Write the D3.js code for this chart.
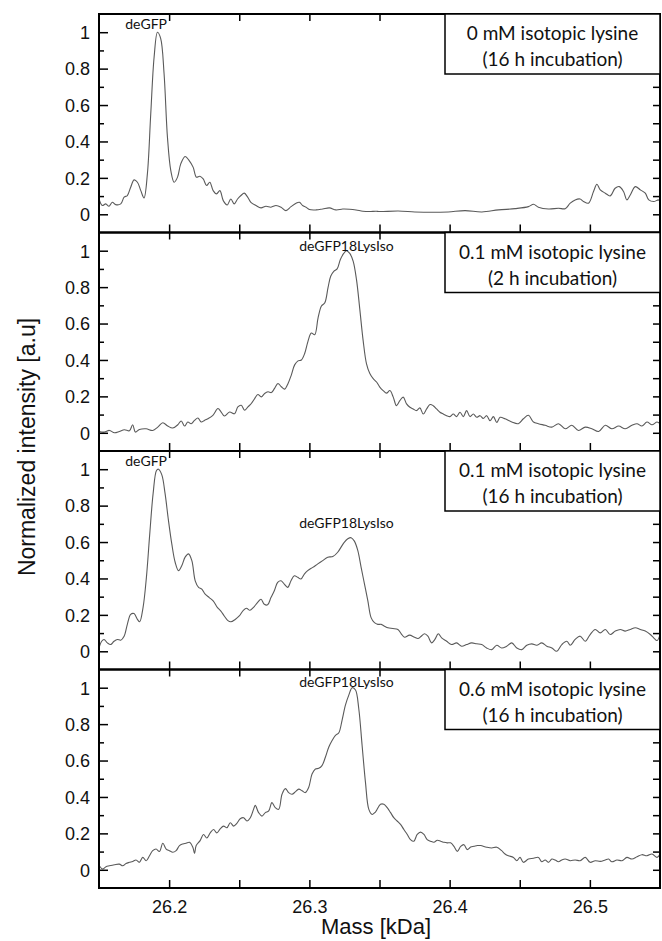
<!DOCTYPE html>
<html>
<head>
<meta charset="utf-8">
<script src="https://cdn.jsdelivr.net/npm/d3@7"></script>
<style>
  body { margin: 0; background: #fff; overflow: hidden; }
  svg { display: block; }
</style>
</head>
<body>
<div class="chart"></div>
<script>
const WIDTH = 662;
const HEIGHT = 941;

const margin = { top: 14, left: 99, right: 2, bottom: 53 };
const plotW = WIDTH - margin.left - margin.right;
const panelH = (HEIGHT - margin.top - margin.bottom) / 4;

// [mass kDa, normalized intensity]
const spectrum0mM16h = [
  [26.1500,0.084],[26.1524,0.048],[26.1548,0.057],[26.1571,0.044],[26.1595,0.066],[26.1619,0.053],
  [26.1655,0.057],[26.1679,0.094],[26.1702,0.103],[26.1726,0.149],[26.1750,0.189],[26.1774,0.176],
  [26.1798,0.130],[26.1821,0.090],[26.1845,0.222],[26.1869,0.552],[26.1893,0.864],[26.1917,1.000],
  [26.1940,0.965],[26.1964,0.772],[26.1988,0.424],[26.2012,0.240],[26.2036,0.176],[26.2060,0.204],
  [26.2083,0.277],[26.2114,0.317],[26.2143,0.295],[26.2171,0.259],[26.2195,0.204],[26.2219,0.209],
  [26.2243,0.194],[26.2267,0.158],[26.2290,0.176],[26.2314,0.130],[26.2338,0.112],[26.2362,0.130],
  [26.2386,0.075],[26.2414,0.051],[26.2440,0.084],[26.2464,0.057],[26.2488,0.084],[26.2512,0.103],
  [26.2536,0.116],[26.2560,0.094],[26.2583,0.066],[26.2619,0.048],[26.2655,0.035],[26.2690,0.044],
  [26.2726,0.039],[26.2762,0.048],[26.2798,0.039],[26.2833,0.020],[26.2869,0.042],[26.2905,0.061],
  [26.2929,0.066],[26.2952,0.048],[26.2976,0.039],[26.3000,0.026],[26.3048,0.024],[26.3095,0.029],
  [26.3143,0.035],[26.3190,0.024],[26.3238,0.029],[26.3286,0.028],[26.3333,0.024],[26.3381,0.017],
  [26.3429,0.015],[26.3476,0.017],[26.3500,0.015],[26.3633,0.018],[26.3752,0.013],[26.3870,0.011],
  [26.3990,0.013],[26.4110,0.020],[26.4230,0.013],[26.4348,0.024],[26.4467,0.031],[26.4562,0.042],
  [26.4598,0.055],[26.4633,0.039],[26.4705,0.029],[26.4776,0.033],[26.4824,0.031],[26.4860,0.061],
  [26.4895,0.079],[26.4930,0.084],[26.4955,0.070],[26.4990,0.061],[26.5026,0.125],[26.5050,0.165],
  [26.5074,0.134],[26.5110,0.116],[26.5145,0.101],[26.5180,0.143],[26.5210,0.152],[26.5240,0.125],
  [26.5264,0.079],[26.5288,0.106],[26.5324,0.152],[26.5360,0.134],[26.5395,0.116],[26.5420,0.079],
  [26.5455,0.070],[26.5490,0.079],[26.5500,0.070]
];

const spectrum01mM2h = [
  [26.1502,0.007],[26.1538,0.004],[26.1574,0.013],[26.1610,0.000],[26.1645,0.007],[26.1681,0.017],
  [26.1717,0.011],[26.1740,0.044],[26.1760,0.004],[26.1788,0.018],[26.1836,0.022],[26.1883,0.013],
  [26.1919,0.031],[26.1955,0.055],[26.1990,0.037],[26.2026,0.026],[26.2062,0.044],[26.2086,0.065],
  [26.2110,0.037],[26.2133,0.059],[26.2157,0.050],[26.2181,0.068],[26.2205,0.081],[26.2229,0.059],
  [26.2252,0.068],[26.2276,0.077],[26.2312,0.096],[26.2348,0.133],[26.2371,0.114],[26.2395,0.092],
  [26.2431,0.114],[26.2467,0.105],[26.2490,0.142],[26.2514,0.151],[26.2538,0.124],[26.2562,0.142],
  [26.2586,0.161],[26.2610,0.188],[26.2633,0.210],[26.2657,0.197],[26.2681,0.216],[26.2705,0.225],
  [26.2729,0.221],[26.2752,0.244],[26.2776,0.271],[26.2800,0.253],[26.2824,0.240],[26.2848,0.271],
  [26.2871,0.317],[26.2895,0.373],[26.2919,0.395],[26.2943,0.400],[26.2967,0.437],[26.2990,0.502],
  [26.3014,0.548],[26.3038,0.539],[26.3062,0.631],[26.3086,0.696],[26.3110,0.714],[26.3133,0.797],
  [26.3152,0.860],[26.3174,0.887],[26.3198,0.900],[26.3221,0.952],[26.3245,0.985],[26.3264,1.000],
  [26.3288,0.985],[26.3312,0.943],[26.3336,0.841],[26.3360,0.675],[26.3383,0.509],[26.3407,0.380],
  [26.3431,0.325],[26.3455,0.297],[26.3479,0.279],[26.3502,0.251],[26.3526,0.232],[26.3550,0.218],
  [26.3574,0.232],[26.3598,0.196],[26.3621,0.149],[26.3645,0.177],[26.3669,0.196],[26.3693,0.159],
  [26.3717,0.140],[26.3740,0.131],[26.3764,0.122],[26.3788,0.137],[26.3812,0.103],[26.3836,0.131],
  [26.3860,0.155],[26.3883,0.149],[26.3907,0.131],[26.3931,0.113],[26.3955,0.103],[26.3979,0.094],
  [26.4002,0.089],[26.4026,0.103],[26.4050,0.089],[26.4074,0.113],[26.4098,0.089],[26.4121,0.122],
  [26.4145,0.089],[26.4169,0.103],[26.4193,0.085],[26.4217,0.094],[26.4240,0.079],[26.4264,0.094],
  [26.4288,0.066],[26.4312,0.089],[26.4336,0.057],[26.4360,0.085],[26.4395,0.077],[26.4443,0.059],
  [26.4490,0.050],[26.4526,0.077],[26.4562,0.096],[26.4598,0.059],[26.4633,0.050],[26.4681,0.041],
  [26.4729,0.031],[26.4776,0.050],[26.4824,0.022],[26.4871,0.041],[26.4919,0.013],[26.4967,0.031],
  [26.5014,0.022],[26.5062,0.007],[26.5110,0.041],[26.5157,0.022],[26.5205,0.037],[26.5252,0.022],
  [26.5300,0.041],[26.5336,0.050],[26.5371,0.037],[26.5407,0.059],[26.5443,0.044],[26.5479,0.059],
  [26.5500,0.050]
];

const spectrum01mM16h = [
  [26.1500,0.018],[26.1519,0.055],[26.1536,0.065],[26.1560,0.046],[26.1583,0.037],[26.1607,0.055],
  [26.1631,0.065],[26.1655,0.061],[26.1679,0.083],[26.1702,0.148],[26.1726,0.203],[26.1750,0.207],
  [26.1774,0.175],[26.1790,0.162],[26.1814,0.240],[26.1838,0.406],[26.1862,0.646],[26.1886,0.867],
  [26.1910,0.993],[26.1924,1.000],[26.1948,0.969],[26.1971,0.867],[26.1995,0.720],[26.2019,0.590],
  [26.2043,0.489],[26.2067,0.443],[26.2090,0.470],[26.2114,0.517],[26.2138,0.535],[26.2162,0.498],
  [26.2186,0.387],[26.2210,0.351],[26.2233,0.341],[26.2257,0.314],[26.2286,0.295],[26.2314,0.277],
  [26.2345,0.240],[26.2369,0.221],[26.2393,0.194],[26.2417,0.170],[26.2440,0.162],[26.2471,0.175],
  [26.2500,0.194],[26.2529,0.225],[26.2552,0.236],[26.2576,0.225],[26.2600,0.240],[26.2631,0.268],
  [26.2655,0.286],[26.2679,0.258],[26.2702,0.255],[26.2726,0.295],[26.2750,0.332],[26.2774,0.378],
  [26.2798,0.387],[26.2821,0.369],[26.2845,0.351],[26.2869,0.387],[26.2893,0.415],[26.2917,0.406],
  [26.2940,0.397],[26.2964,0.424],[26.2988,0.443],[26.3024,0.461],[26.3060,0.480],[26.3095,0.498],
  [26.3131,0.517],[26.3167,0.520],[26.3202,0.544],[26.3226,0.572],[26.3250,0.600],[26.3274,0.618],
  [26.3298,0.624],[26.3321,0.605],[26.3345,0.554],[26.3369,0.461],[26.3393,0.369],[26.3417,0.277],
  [26.3440,0.185],[26.3464,0.157],[26.3488,0.148],[26.3512,0.148],[26.3536,0.138],[26.3560,0.129],
  [26.3595,0.125],[26.3631,0.120],[26.3655,0.096],[26.3679,0.077],[26.3714,0.089],[26.3750,0.077],
  [26.3774,0.070],[26.3798,0.083],[26.3821,0.096],[26.3845,0.083],[26.3871,0.046],[26.3895,0.065],
  [26.3919,0.096],[26.3943,0.074],[26.3979,0.055],[26.4014,0.037],[26.4050,0.046],[26.4086,0.028],
  [26.4121,0.037],[26.4157,0.046],[26.4193,0.041],[26.4229,0.037],[26.4264,0.018],[26.4300,0.009],
  [26.4336,0.033],[26.4371,0.018],[26.4407,0.028],[26.4443,0.046],[26.4479,0.018],[26.4514,0.009],
  [26.4550,0.033],[26.4586,0.041],[26.4621,0.033],[26.4657,0.046],[26.4693,0.028],[26.4729,0.018],
  [26.4764,0.000],[26.4800,0.037],[26.4836,0.055],[26.4860,0.033],[26.4895,0.065],[26.4931,0.083],
  [26.4967,0.055],[26.5002,0.092],[26.5038,0.120],[26.5074,0.101],[26.5110,0.120],[26.5145,0.092],
  [26.5181,0.111],[26.5217,0.120],[26.5252,0.111],[26.5288,0.120],[26.5324,0.129],[26.5360,0.120],
  [26.5395,0.111],[26.5431,0.092],[26.5455,0.074],[26.5479,0.059],[26.5500,0.092]
];

const spectrum06mM16h = [
  [26.1502,0.022],[26.1526,0.004],[26.1550,0.017],[26.1574,0.022],[26.1610,0.028],[26.1645,0.031],
  [26.1669,0.022],[26.1693,0.035],[26.1717,0.041],[26.1740,0.046],[26.1764,0.054],[26.1788,0.041],
  [26.1812,0.068],[26.1836,0.050],[26.1860,0.077],[26.1883,0.105],[26.1907,0.114],[26.1931,0.101],
  [26.1955,0.146],[26.1979,0.114],[26.2002,0.105],[26.2026,0.096],[26.2050,0.105],[26.2074,0.133],
  [26.2098,0.142],[26.2121,0.146],[26.2145,0.151],[26.2169,0.124],[26.2181,0.090],[26.2193,0.133],
  [26.2221,0.160],[26.2245,0.194],[26.2269,0.175],[26.2293,0.203],[26.2317,0.221],[26.2340,0.203],
  [26.2364,0.225],[26.2388,0.240],[26.2412,0.231],[26.2436,0.258],[26.2460,0.240],[26.2483,0.255],
  [26.2507,0.280],[26.2531,0.286],[26.2555,0.268],[26.2579,0.286],[26.2602,0.332],[26.2614,0.354],
  [26.2638,0.314],[26.2662,0.295],[26.2686,0.314],[26.2710,0.323],[26.2733,0.369],[26.2757,0.341],
  [26.2781,0.332],[26.2805,0.415],[26.2829,0.446],[26.2852,0.424],[26.2876,0.415],[26.2900,0.428],
  [26.2924,0.443],[26.2948,0.434],[26.2971,0.424],[26.2995,0.452],[26.3019,0.526],[26.3043,0.554],
  [26.3067,0.557],[26.3090,0.572],[26.3114,0.618],[26.3138,0.673],[26.3162,0.710],[26.3186,0.738],
  [26.3210,0.753],[26.3233,0.821],[26.3257,0.904],[26.3281,0.959],[26.3305,1.000],[26.3329,0.987],
  [26.3352,0.886],[26.3376,0.683],[26.3400,0.480],[26.3424,0.332],[26.3448,0.304],[26.3471,0.317],
  [26.3507,0.360],[26.3531,0.360],[26.3555,0.341],[26.3579,0.314],[26.3602,0.286],[26.3626,0.268],
  [26.3650,0.249],[26.3674,0.221],[26.3698,0.194],[26.3721,0.166],[26.3745,0.157],[26.3769,0.194],
  [26.3793,0.207],[26.3817,0.194],[26.3840,0.166],[26.3864,0.157],[26.3888,0.151],[26.3912,0.162],
  [26.3936,0.157],[26.3960,0.151],[26.3983,0.148],[26.4007,0.148],[26.4031,0.129],[26.4055,0.101],
  [26.4079,0.129],[26.4102,0.138],[26.4126,0.111],[26.4150,0.125],[26.4174,0.129],[26.4198,0.133],
  [26.4221,0.133],[26.4264,0.124],[26.4300,0.120],[26.4336,0.124],[26.4371,0.105],[26.4395,0.087],
  [26.4419,0.077],[26.4455,0.068],[26.4479,0.050],[26.4502,0.068],[26.4526,0.041],[26.4562,0.059],
  [26.4598,0.063],[26.4633,0.068],[26.4657,0.044],[26.4681,0.054],[26.4705,0.041],[26.4729,0.059],
  [26.4752,0.054],[26.4776,0.044],[26.4800,0.054],[26.4824,0.059],[26.4860,0.050],[26.4895,0.054],
  [26.4931,0.050],[26.4967,0.068],[26.5002,0.041],[26.5038,0.050],[26.5074,0.046],[26.5110,0.054],
  [26.5133,0.059],[26.5157,0.044],[26.5193,0.054],[26.5229,0.050],[26.5264,0.068],[26.5300,0.059],
  [26.5336,0.072],[26.5371,0.083],[26.5407,0.077],[26.5443,0.087],[26.5479,0.068],[26.5500,0.087]
];

const spectra = [spectrum0mM16h, spectrum01mM2h, spectrum01mM16h, spectrum06mM16h];

const conditions = [
  ["0 mM isotopic lysine", "(16 h incubation)"],
  ["0.1 mM isotopic lysine", "(2 h incubation)"],
  ["0.1 mM isotopic lysine", "(16 h incubation)"],
  ["0.6 mM isotopic lysine", "(16 h incubation)"],
];

// peak names: [panel, text, mass at label centre, intensity at baseline]
const peakLabels = [
  [0, "deGFP", 26.1836, 1.015],
  [1, "deGFP18LysIso", 26.3264, 1.0],
  [2, "deGFP", 26.1836, 1.02],
  [2, "deGFP18LysIso", 26.3264, 0.675],
  [3, "deGFP18LysIso", 26.3264, 1.005],
];

const massDomain = [26.15, 26.55];
const massTicks = [26.2, 26.3, 26.4, 26.5];
const massMinor = [26.25, 26.35, 26.45];
const intDomain = [-0.1, 1.1];
const intTicks = [0, 0.2, 0.4, 0.6, 0.8, 1];
const intMinor = [0.1, 0.3, 0.5, 0.7, 0.9];
const intAll = [0, 0.1, 0.2, 0.3, 0.4, 0.5, 0.6, 0.7, 0.8, 0.9, 1];

const svg = d3.select(".chart").append("svg")
  .attr("width", WIDTH)
  .attr("height", HEIGHT);

const x = d3.scaleLinear().domain(massDomain).range([margin.left, margin.left + plotW]);
const fmt = d3.format("~g");
const AXIS_FONT = "'Liberation Sans', Arial, sans-serif";
const LABEL_FONT = "Lato, 'Open Sans', sans-serif";

const styleAxis = (g) => {
  g.select(".domain").remove();
  g.selectAll(".tick line").attr("stroke", "#000").attr("stroke-width", 1.5);
  g.selectAll(".tick text").attr("font-family", AXIS_FONT).attr("font-size", 18).attr("fill", "#111");
};

spectra.forEach((data, i) => {
  const top = margin.top + i * panelH;
  const bottom = top + panelH;
  const y = d3.scaleLinear().domain(intDomain).range([bottom, top]);
  const g = svg.append("g").attr("class", "panel");

  g.append("path")
    .datum(data)
    .attr("fill", "none")
    .attr("stroke", "#5a5a5a")
    .attr("stroke-width", 1.1)
    .attr("d", d3.line().x(d => x(d[0])).y(d => y(d[1])).curve(d3.curveCatmullRom.alpha(0.5)));

  // left axis, labelled
  g.append("g").attr("transform", `translate(${margin.left},0)`)
    .call(d3.axisLeft(y).tickValues(intTicks).tickSize(-9).tickPadding(9).tickFormat(fmt))
    .call(styleAxis)
    .selectAll(".tick text").attr("dy", "0.35em");
  g.append("g").attr("transform", `translate(${margin.left},0)`)
    .call(d3.axisLeft(y).tickValues(intMinor).tickSize(-5).tickFormat(""))
    .call(styleAxis);

  // right axis
  g.append("g").attr("transform", `translate(${margin.left + plotW},0)`)
    .call(d3.axisRight(y).tickValues(intAll).tickSize(-7).tickFormat(""))
    .call(styleAxis);

  // top and bottom
  g.append("g").attr("transform", `translate(0,${top})`)
    .call(d3.axisTop(x).tickValues(massTicks.concat(massMinor)).tickSize(-7).tickFormat(""))
    .call(styleAxis);
  g.append("g").attr("transform", `translate(0,${bottom})`)
    .call(d3.axisBottom(x).tickValues(massTicks.concat(massMinor)).tickSize(-8).tickPadding(12)
      .tickFormat(d => (i === spectra.length - 1 && massTicks.includes(d)) ? fmt(d) : ""))
    .call(styleAxis);

  g.append("rect")
    .attr("x", margin.left).attr("y", top)
    .attr("width", plotW).attr("height", panelH)
    .attr("fill", "none").attr("stroke", "#000").attr("stroke-width", 2);

  // condition box
  const boxW = 215, boxH = 60;
  const bxLeft = margin.left + plotW - boxW;
  g.append("rect")
    .attr("x", bxLeft).attr("y", top)
    .attr("width", boxW).attr("height", boxH)
    .attr("fill", "#fff").attr("stroke", "#000").attr("stroke-width", 1.5);
  g.append("text")
    .attr("x", bxLeft + boxW / 2)
    .attr("y", top + 26)
    .attr("text-anchor", "middle")
    .attr("font-family", LABEL_FONT)
    .attr("font-size", 19)
    .attr("fill", "#111")
    .selectAll("tspan")
    .data(conditions[i])
    .join("tspan")
    .attr("x", bxLeft + boxW / 2)
    .attr("dy", (d, k) => k === 0 ? 0 : 26)
    .text(d => d);

  g.selectAll(".peak")
    .data(peakLabels.filter(p => p[0] === i))
    .join("text")
    .attr("class", "peak")
    .attr("x", d => x(d[2]))
    .attr("y", d => y(d[3]))
    .attr("text-anchor", "middle")
    .attr("font-family", LABEL_FONT)
    .attr("font-size", 14)
    .attr("fill", "#111")
    .text(d => d[1]);
});

svg.append("text")
  .attr("x", x(26.3475))
  .attr("y", 934)
  .attr("text-anchor", "middle")
  .attr("font-family", AXIS_FONT)
  .attr("font-size", 22)
  .attr("fill", "#111")
  .text("Mass [kDa]");

svg.append("text")
  .attr("transform", `translate(35,${margin.top + 2 * panelH - 4}) rotate(-90)`)
  .attr("text-anchor", "middle")
  .attr("font-family", AXIS_FONT)
  .attr("font-size", 23)
  .attr("fill", "#111")
  .text("Normalized intensity [a.u]");
</script>
</body>
</html>
